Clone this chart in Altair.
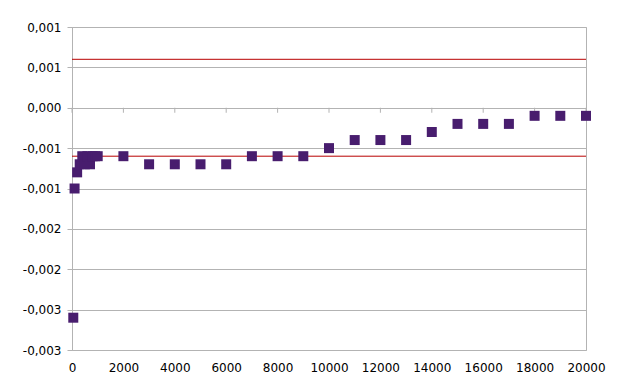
import altair as alt
import pandas as pd

# ---- data ----
x_values = [50, 100, 200, 300, 400, 500, 600, 700, 800, 900, 1000,
            2000, 3000, 4000, 5000, 6000, 7000, 8000, 9000, 10000,
            11000, 12000, 13000, 14000, 15000, 16000, 17000, 18000, 19000, 20000]
y_values = [-0.0026, -0.0010, -0.0008, -0.0007, -0.0006, -0.0007, -0.0006, -0.0007, -0.0006, -0.0006, -0.0006,
            -0.0006, -0.0007, -0.0007, -0.0007, -0.0007, -0.0006, -0.0006, -0.0006, -0.0005,
            -0.0004, -0.0004, -0.0004, -0.0003, -0.0002, -0.0002, -0.0002, -0.0001, -0.0001, -0.0001]
ref_lines = [0.0006, -0.0006]
y_ticks = [0.001, 0.0005, 0.0, -0.0005, -0.001, -0.0015, -0.002, -0.0025, -0.003]
x_ticks = [0, 2000, 4000, 6000, 8000, 10000, 12000, 14000, 16000, 18000, 20000]

df = pd.DataFrame({"x": x_values, "y": y_values})
rules_df = pd.DataFrame({"v": ref_lines})
ticks_df = pd.DataFrame({"t": x_ticks})

GRID = "#b3b3b3"
xscale = alt.Scale(domain=[0, 20000], nice=False, zero=True)
yscale = alt.Scale(domain=[-0.003, 0.001], nice=False, zero=False)

y_label_expr = ("(datum.value < -1e-12 ? '-' : '') + "
                "replace(format(abs(datum.value) + 1e-9, '.3f'), '.', ',')")

points = alt.Chart(df).mark_square(size=100, color="#481d6e", opacity=1, strokeWidth=0).encode(
    x=alt.X("x:Q", scale=xscale, title=None,
            axis=alt.Axis(values=x_ticks, format="d", ticks=False, tickSize=0, domain=False,
                          grid=False, labelPadding=12, labelOverlap=False, labelFlush=False,
                          orient="bottom")),
    y=alt.Y("y:Q", scale=yscale, title=None,
            axis=alt.Axis(values=y_ticks, labelExpr=y_label_expr, grid=True, gridColor=GRID,
                          domain=True, domainColor=GRID, ticks=True, tickColor=GRID, tickSize=5,
                          labelPadding=6, labelOverlap=False, labelFlush=False, orient="left")),
)

# small tick marks hanging below the zero line
zero_ticks = alt.Chart(ticks_df).mark_rule(color=GRID, strokeWidth=1, yOffset=0, y2Offset=5).encode(
    x=alt.X("t:Q", scale=xscale),
    y=alt.datum(0, scale=yscale),
    y2=alt.datum(0),
)

rules = alt.Chart(rules_df).mark_rule(color="#b80000", strokeWidth=1).encode(
    y=alt.Y("v:Q", scale=yscale),
)

chart = alt.layer(zero_ticks, rules, points).properties(
    width=514, height=323,
    autosize=alt.AutoSizeParams(type="none"),
    padding={"left": 64, "top": 19, "right": 24, "bottom": 26},
    background="white",
).configure_view(
    stroke=GRID, strokeWidth=1
).configure_axis(
    labelFont="DejaVu Sans", labelFontSize=12, labelColor="#000000"
)

chart.save("out.html", embed_options={"renderer": "svg", "actions": False})
